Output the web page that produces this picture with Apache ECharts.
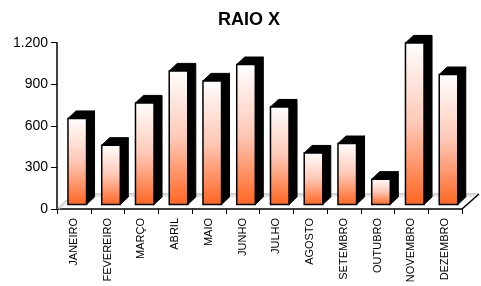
<!DOCTYPE html>
<html><head><meta charset="utf-8">
<script src="https://cdn.jsdelivr.net/npm/echarts@6/dist/echarts.min.js"></script>
<style>html,body{margin:0;padding:0;background:#fff}#c{width:481px;height:286px}</style>
</head><body><div id="c"></div>
<script>
const categories = ['JANEIRO','FEVEREIRO','MARÇO','ABRIL','MAIO','JUNHO','JULHO','AGOSTO','SETEMBRO','OUTUBRO','NOVEMBRO','DEZEMBRO'];
const values = [621, 428, 733, 964, 892, 1010, 704, 372, 440, 183, 1166, 938];
const yTicks = [0, 300, 600, 900, 1200];

const FONT = 'Arial, "Liberation Sans", sans-serif';
const chart = echarts.init(document.getElementById('c'), null, {renderer:'canvas'});
const DX = 8, DY = 7.5, SHIFT = 4.5;

function renderItem(params, api){
  const idx = api.value(0), v = api.value(1);
  const top = api.coord([idx, v]);
  const base = api.coord([idx, 0]);
  const band = api.size([1,0])[0];
  const w = band*0.55;
  const x0 = top[0] - band*0.175;
  const yb = base[1]-SHIFT, yt = top[1]-SHIFT;
  return {type:'group', children:[
    {type:'polygon', shape:{points:[[x0+w,yt],[x0+w+DX,yt-DY],[x0+w+DX,yb-DY],[x0+w,yb]]}, style:{fill:'#000',stroke:'#000',lineWidth:1}},
    {type:'polygon', shape:{points:[[x0,yt],[x0+DX,yt-DY],[x0+w+DX,yt-DY],[x0+w,yt]]}, style:{fill:'#000',stroke:'#000',lineWidth:1}},
    {type:'rect', shape:{x:x0,y:yt,width:w,height:yb-yt}, style:{
      fill:new echarts.graphic.LinearGradient(0,0,0,1,[{offset:0,color:'#ffffff'},{offset:0.5,color:'#ffc8b6'},{offset:1,color:'#ff6420'}]),
      stroke:'#000', lineWidth:1.5}}
  ]};
}

chart.setOption({
  animation:false,
  title:{text:'RAIO X', left:244, top:6, textAlign:'center', textStyle:{fontFamily:FONT,fontSize:18,fontWeight:'bold',color:'#000'}},
  grid:{left:57, right:19, top:42.7, bottom:77, containLabel:false},
  xAxis:{type:'category', data:categories, boundaryGap:true,
    axisLine:{lineStyle:{color:'#000',width:1.5}},
    axisTick:{show:true, length:5, interval:0, lineStyle:{color:'#000'}},
    axisLabel:{rotate:90, interval:0, margin:9, fontFamily:FONT, fontSize:11, color:'#000'}},
  yAxis:{type:'value', min:yTicks[0], max:yTicks[yTicks.length-1], interval:300,
    axisLine:{show:true, lineStyle:{color:'#000',width:1.5}},
    axisTick:{show:true, length:6, lineStyle:{color:'#000'}},
    splitLine:{show:false},
    axisLabel:{margin:9, fontFamily:FONT, fontSize:14, color:'#000', formatter:v=>v>=1000?String(v).replace(/(\d)(\d{3})$/,'$1.$2'):String(v)}},
  series:[{type:'custom', renderItem, data:values.map((v,i)=>[i,v]), z:5}]
});

// floor decoration computed from axis pixels
const p0 = chart.convertToPixel({gridIndex:0}, [0,0]);
const band = chart.getModel().getComponent('xAxis').axis.getBandWidth();
const xl = p0[0] - band/2, yb = p0[1];
const xr = xl + band*categories.length;
const FX = 17, FY = 15;
chart.setOption({graphic:[
  {type:'polyline', z:1, shape:{points:[[xl,yb],[xl+FX,yb-FY],[xr+FX,yb-FY]]}, style:{stroke:'#aaa',lineWidth:1,fill:null}},
  {type:'polyline', z:1, shape:{points:[[xl+2,yb],[xl+FX+2,yb-FY+2],[xr+FX-2,yb-FY+2]]}, style:{stroke:'#ccc',lineWidth:1,fill:null}},
  {type:'line', z:1, shape:{x1:xr,y1:yb,x2:xr+FX,y2:yb-FY}, style:{stroke:'#000',lineWidth:1.5}}
]});
</script></body></html>
